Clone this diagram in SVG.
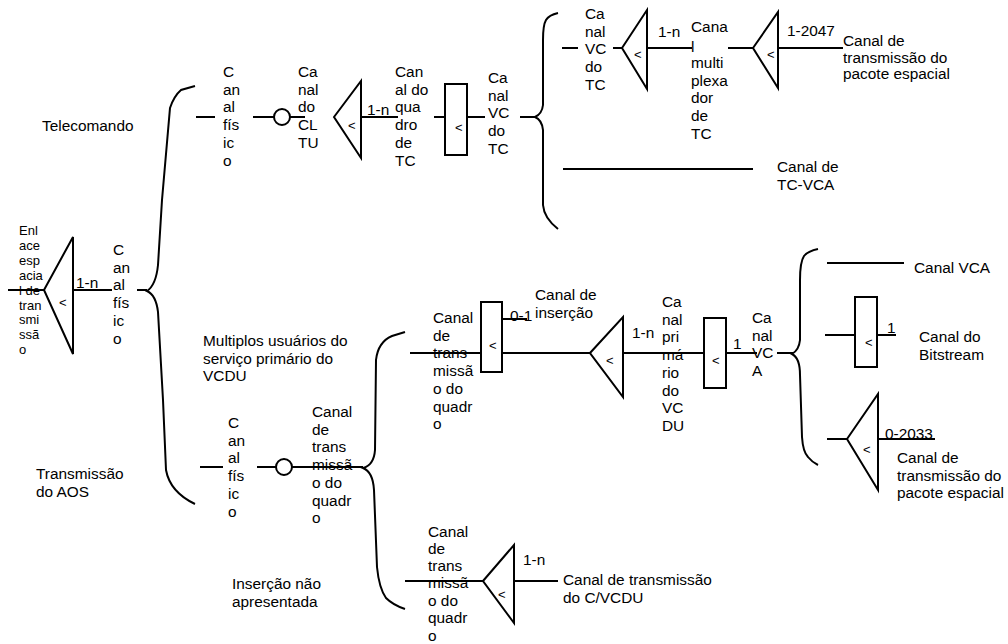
<svg xmlns="http://www.w3.org/2000/svg" width="1008" height="644" viewBox="0 0 1008 644">
<style>
text{font-family:"Liberation Sans",Arial,sans-serif;font-size:15.4px;fill:#000}
.s{font-size:13px}
.ln{stroke:#000;stroke-width:2;fill:none}
.sh{stroke:#000;stroke-width:2;fill:#fff}
</style>
<rect width="1008" height="644" fill="#fff"/>
<g id="connectors" class="ln">
<path d="M8,290H44M73,290H112M137,290H147"/>
<path d="M196,117H215M253,117H274M290,117H305M361,117H398M434,117H445M467,117H485M520,117H535"/>
<path d="M562,48H578M613,48H622M647,48H692M728,48H753M778,48H843"/>
<path d="M563,169H753"/>
<path d="M200,467H223M257,467H276M292,467H363"/>
<path d="M410,353H481M502,319H527M502,353H590M623,353H704M726,353H757M777,353H793"/>
<path d="M827,263H904M825,335H855M877,335H896M827,439H847M878,439H935"/>
<path d="M405,581H483M514,581H558"/>
<path d="M195,86L181,90Q174,96 170,108L162,200L158,265Q156,285 147,291Q156,295 158,312L163,400L166,470Q170,492 195,504"/>
<path d="M558,13Q549,15 546,20Q543,25 543,40L543,105Q542,114 535,117Q542,120 543,130L543,205Q544,218 558,229"/>
<path d="M405,332L392,336Q378,342 376,360L375,450Q374,465 363,468Q373,472 374,490L377,567Q379,588 386,598Q393,605 405,609"/>
<path d="M818,249Q808,251 804,256Q800,262 800,280L800,340Q799,350 792,354Q800,358 800,375L802,437Q803,452 808,457Q812,462 818,465"/>
</g>
<g id="n-enlace">
<path class="sh" d="M44,290L73,237L73,354Z"/>
<text class="s" x="59" y="307">&lt;</text>
</g>
<g id="t-enlace">
<text class="s"><tspan x="19" y="235">Enl</tspan><tspan x="19" dy="14.9">ace</tspan><tspan x="19" dy="14.9">esp</tspan><tspan x="19" dy="14.9">acia</tspan><tspan x="19" dy="14.9">l de</tspan><tspan x="19" dy="14.9">tran</tspan><tspan x="19" dy="14.9">smi</tspan><tspan x="19" dy="14.9">ssã</tspan><tspan x="19" dy="14.9">o</tspan></text>
</g>
<g id="t-1n-a"><text x="76" y="288">1-n</text></g>
<g id="t-canalfisico-a">
<text><tspan x="113" y="255">C</tspan><tspan x="113" dy="17.7">an</tspan><tspan x="113" dy="17.7">al</tspan><tspan x="113" dy="17.7">fís</tspan><tspan x="113" dy="17.7">ic</tspan><tspan x="113" dy="17.7">o</tspan></text>
</g>
<g id="t-telecomando"><text x="42" y="131">Telecomando</text></g>
<g id="t-canalfisico-tc">
<text><tspan x="223" y="77">C</tspan><tspan x="223" dy="17.7">an</tspan><tspan x="223" dy="17.7">al</tspan><tspan x="223" dy="17.7">fís</tspan><tspan x="223" dy="17.7">ic</tspan><tspan x="223" dy="17.7">o</tspan></text>
</g>
<g id="n-circle-tc"><circle class="sh" cx="282" cy="117" r="8"/></g>
<g id="t-cltu">
<text><tspan x="298" y="77">Ca</tspan><tspan x="298" dy="17.7">nal</tspan><tspan x="298" dy="17.7">do</tspan><tspan x="298" dy="17.7">CL</tspan><tspan x="298" dy="17.7">TU</tspan></text>
</g>
<g id="n-tri-cltu">
<path class="sh" d="M334,117L361,81L361,158Z"/>
<text class="s" x="348" y="130">&lt;</text>
</g>
<g id="t-1n-b"><text x="367" y="115">1-n</text></g>
<g id="t-quadro-tc">
<text><tspan x="395" y="77">Can</tspan><tspan x="395" dy="17.7">al do</tspan><tspan x="395" dy="17.7">qua</tspan><tspan x="395" dy="17.7">dro</tspan><tspan x="395" dy="17.7">de</tspan><tspan x="395" dy="17.7">TC</tspan></text>
</g>
<g id="n-rect-tc">
<rect class="sh" x="445" y="84" width="22" height="71"/>
<text class="s" x="455" y="132">&lt;</text>
</g>
<g id="t-vc-tc-a">
<text><tspan x="488" y="83">Ca</tspan><tspan x="488" dy="17.7">nal</tspan><tspan x="488" dy="17.7">VC</tspan><tspan x="488" dy="17.7">do</tspan><tspan x="488" dy="17.7">TC</tspan></text>
</g>
<g id="t-vc-tc-b">
<text><tspan x="585" y="19">Ca</tspan><tspan x="585" dy="17.7">nal</tspan><tspan x="585" dy="17.7">VC</tspan><tspan x="585" dy="17.7">do</tspan><tspan x="585" dy="17.7">TC</tspan></text>
</g>
<g id="n-tri-vc">
<path class="sh" d="M622,48L647,10L647,89Z"/>
<text class="s" x="634" y="59">&lt;</text>
</g>
<g id="t-1n-c"><text x="658" y="37">1-n</text></g>
<g id="t-mux">
<text><tspan x="691" y="32">Cana</tspan><tspan x="691" y="52">l</tspan><tspan x="691" y="68">multi</tspan><tspan x="691" dy="17.7">plexa</tspan><tspan x="691" dy="17.7">dor</tspan><tspan x="691" dy="17.7">de</tspan><tspan x="691" dy="17.7">TC</tspan></text>
</g>
<g id="n-tri-2047">
<path class="sh" d="M753,48L778,12L778,88Z"/>
<text class="s" x="767" y="59">&lt;</text>
</g>
<g id="t-2047"><text x="787" y="36">1-2047</text></g>
<g id="t-pacote-a">
<text><tspan x="843" y="46">Canal de</tspan><tspan x="843" dy="16.6">transmissão do</tspan><tspan x="843" dy="16.6">pacote espacial</tspan></text>
</g>
<g id="t-tcvca">
<text><tspan x="777" y="172">Canal de</tspan><tspan x="777" dy="17.7">TC-VCA</tspan></text>
</g>
<g id="t-multiplos">
<text><tspan x="203" y="346">Multiplos usuários do</tspan><tspan x="203" dy="17.7">serviço primário do</tspan><tspan x="203" dy="17.7">VCDU</tspan></text>
</g>
<g id="t-transmissao-aos">
<text><tspan x="36" y="479">Transmissão</tspan><tspan x="36" dy="17.7">do AOS</tspan></text>
</g>
<g id="t-canalfisico-aos">
<text><tspan x="228" y="428">C</tspan><tspan x="228" dy="17.7">an</tspan><tspan x="228" dy="17.7">al</tspan><tspan x="228" dy="17.7">fís</tspan><tspan x="228" dy="17.7">ic</tspan><tspan x="228" dy="17.7">o</tspan></text>
</g>
<g id="n-circle-aos"><circle class="sh" cx="284" cy="467" r="8"/></g>
<g id="t-quadro-aos">
<text><tspan x="312" y="417">Canal</tspan><tspan x="312" dy="17.7">de</tspan><tspan x="312" dy="17.7">trans</tspan><tspan x="312" dy="17.7">missã</tspan><tspan x="312" dy="17.7">o do</tspan><tspan x="312" dy="17.7">quadr</tspan><tspan x="312" dy="17.7">o</tspan></text>
</g>
<g id="t-quadro-mid">
<text><tspan x="433" y="323">Canal</tspan><tspan x="433" dy="17.7">de</tspan><tspan x="433" dy="17.7">trans</tspan><tspan x="433" dy="17.7">missã</tspan><tspan x="433" dy="17.7">o do</tspan><tspan x="433" dy="17.7">quadr</tspan><tspan x="433" dy="17.7">o</tspan></text>
</g>
<g id="n-rect-insercao">
<rect class="sh" x="481" y="302" width="21" height="70"/>
<text class="s" x="489" y="350">&lt;</text>
</g>
<g id="t-01"><text x="510" y="321">0-1</text></g>
<g id="t-insercao">
<text><tspan x="535" y="300">Canal de</tspan><tspan x="535" dy="17.7">inserção</tspan></text>
</g>
<g id="n-tri-primario">
<path class="sh" d="M590,353L623,317L623,397Z"/>
<text class="s" x="606" y="365">&lt;</text>
</g>
<g id="t-1n-d"><text x="632" y="338">1-n</text></g>
<g id="t-primario">
<text><tspan x="662" y="307">Ca</tspan><tspan x="662" dy="17.7">nal</tspan><tspan x="662" dy="17.7">pri</tspan><tspan x="662" dy="17.7">má</tspan><tspan x="662" dy="17.7">rio</tspan><tspan x="662" dy="17.7">do</tspan><tspan x="662" dy="17.7">VC</tspan><tspan x="662" dy="17.7">DU</tspan></text>
</g>
<g id="n-rect-vca">
<rect class="sh" x="704" y="318" width="22" height="70"/>
<text class="s" x="712" y="365">&lt;</text>
</g>
<g id="t-1-a"><text x="733" y="349">1</text></g>
<g id="t-vca">
<text><tspan x="752" y="323">Ca</tspan><tspan x="752" dy="17.7">nal</tspan><tspan x="752" dy="17.7">VC</tspan><tspan x="752" dy="17.7">A</tspan></text>
</g>
<g id="t-canalvca"><text x="914" y="273">Canal VCA</text></g>
<g id="n-rect-bitstream">
<rect class="sh" x="855" y="297" width="22" height="70"/>
<text class="s" x="865" y="347">&lt;</text>
</g>
<g id="t-1-b"><text x="887" y="333">1</text></g>
<g id="t-bitstream">
<text><tspan x="919" y="342">Canal do</tspan><tspan x="919" dy="17.7">Bitstream</tspan></text>
</g>
<g id="n-tri-2033">
<path class="sh" d="M847,439L878,394L878,490Z"/>
<text class="s" x="863" y="454">&lt;</text>
</g>
<g id="t-2033"><text x="885" y="439">0-2033</text></g>
<g id="t-pacote-b">
<text><tspan x="897" y="463">Canal de</tspan><tspan x="897" dy="17.7">transmissão do</tspan><tspan x="897" dy="17.7">pacote espacial</tspan></text>
</g>
<g id="t-quadro-low">
<text><tspan x="428" y="537">Canal</tspan><tspan x="428" dy="17">de</tspan><tspan x="428" dy="17">trans</tspan><tspan x="428" dy="17">missã</tspan><tspan x="428" dy="17.7">o do</tspan><tspan x="428" dy="17.7">quadr</tspan><tspan x="428" dy="17.7">o</tspan></text>
</g>
<g id="n-tri-cvcdu">
<path class="sh" d="M483,581L514,545L514,623Z"/>
<text class="s" x="498" y="599">&lt;</text>
</g>
<g id="t-1n-e"><text x="523" y="565">1-n</text></g>
<g id="t-cvcdu">
<text><tspan x="563" y="585">Canal de transmissão</tspan><tspan x="563" dy="17.7">do C/VCDU</tspan></text>
</g>
<g id="t-insercao-nao">
<text><tspan x="232" y="589">Inserção não</tspan><tspan x="232" dy="17.7">apresentada</tspan></text>
</g>
</svg>
